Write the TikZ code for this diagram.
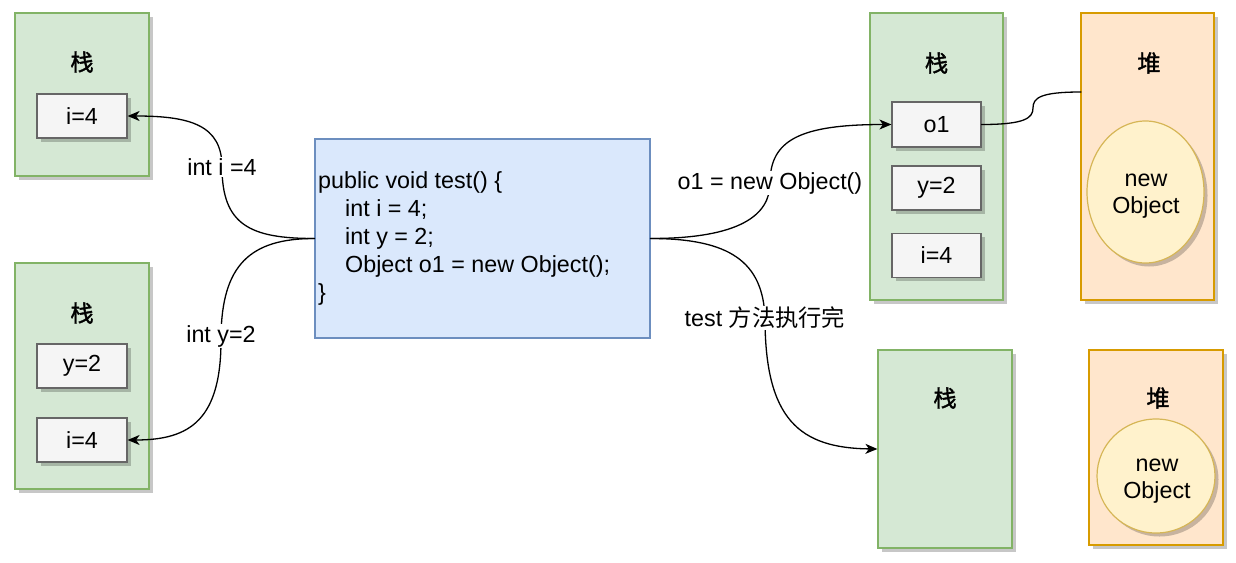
\documentclass[tikz,border=0pt]{standalone}
\usepackage{fontspec}
\setmainfont{Liberation Sans}
\newfontfamily\cjk{Noto Sans CJK SC}[AutoFakeBold=1.5]
\usetikzlibrary{arrows.meta,shadows,shapes.geometric}
\definecolor{stackfill}{HTML}{D5E8D4}
\definecolor{stackline}{HTML}{82B366}
\definecolor{cellfill}{HTML}{F5F5F5}
\definecolor{cellline}{HTML}{666666}
\definecolor{codefill}{HTML}{DAE8FC}
\definecolor{codeline}{HTML}{6C8EBF}
\definecolor{heapfill}{HTML}{FFE6CC}
\definecolor{heapline}{HTML}{D79B00}
\definecolor{objfill}{HTML}{FFF2CC}
\definecolor{objline}{HTML}{D6B656}
\begin{document}
\begin{tikzpicture}[x=1pt,y=-1pt,
  every node/.style={font=\fontsize{23.3}{28}\selectfont, inner sep=0pt},
  shd/.style={drop shadow={shadow xshift=3.5pt,shadow yshift=-3.5pt,fill=black,opacity=0.22}},
  stackbox/.style={rectangle, draw=stackline, fill=stackfill, line width=1.2pt, shd},
  heapbox/.style={rectangle, draw=heapline, fill=heapfill, line width=1.2pt, shd},
  cell/.style={rectangle, draw=cellline, fill=cellfill, line width=1.2pt, shd, minimum height=44pt},
  obj/.style={ellipse, draw=objline, fill=objfill, line width=1.2pt, shd},
  objtext/.style={align=center, font=\fontsize{23.3}{27.5}\selectfont},
  ttl/.style={font=\fontsize{23.3}{28}\selectfont\cjk\bfseries},
  conn/.style={line width=1.3pt, line cap=round},
  arr/.style={conn, -{Stealth[length=12pt,width=10pt,inset=3.5pt]}},
  elabel/.style={fill=white, inner sep=1.5pt}
]
\useasboundingbox (0,0) rectangle (1236,562);

% left top stack
\node[stackbox, minimum width=134pt, minimum height=163pt] (s1) at (82,94.5) {};
\node[ttl] (s1t) at (82,62) {栈};
\node[cell, minimum width=90pt] (s1i) at (82,116) {i=4};

% left bottom stack
\node[stackbox, minimum width=134pt, minimum height=226pt] (s2) at (82,376) {};
\node[ttl] (s2t) at (82,313) {栈};
\node[cell, minimum width=90pt] (s2y) at (82,366) {y=2};
\node[cell, minimum width=90pt] (s2i) at (82,440) {i=4};

% code box
\node[rectangle, draw=codeline, fill=codefill, line width=1.2pt, minimum width=335pt, minimum height=199pt] (code) at (482.5,238.5) {};
\node[anchor=west, align=left] (codetext) at (318,238.5) {public void test() \{\\
\hspace*{27pt}int i = 4;\\
\hspace*{27pt}int y = 2;\\
\hspace*{27pt}Object o1 = new Object();\\
\}};

% right top stack and heap
\node[stackbox, minimum width=133pt, minimum height=287pt] (s3) at (936.5,156.5) {};
\node[ttl] (s3t) at (936.5,63) {栈};
\node[cell, minimum width=89pt, minimum height=45pt] (s3o) at (936.5,124.5) {o1};
\node[cell, minimum width=89pt] (s3y) at (936.5,188) {y=2};
\node[cell, minimum width=89pt] (s3i) at (936.5,255.5) {i=4};

\node[heapbox, minimum width=133pt, minimum height=287pt] (h1) at (1147.5,156.5) {};
\node[ttl] (h1t) at (1149,63) {堆};
\node[obj, minimum width=117pt, minimum height=142pt] (h1o) at (1145.5,192) {};
\node[objtext] (h1ot) at (1146,196) {new\\Object};

% right bottom stack and heap
\node[stackbox, minimum width=134pt, minimum height=198pt] (s4) at (945,449) {};
\node[ttl] (s4t) at (945,398) {栈};
\node[heapbox, minimum width=134pt, minimum height=195pt] (h2) at (1156,447.5) {};
\node[ttl] (h2t) at (1158,398) {堆};
\node[obj, minimum width=118pt, minimum height=114pt] (h2o) at (1156,476) {};
\node[objtext] (h2ot) at (1157,481) {new\\Object};

% connectors
\coordinate (la) at (222,167);
\coordinate (lb) at (221,336);
\coordinate (lc) at (770,183);
\coordinate (ld) at (765,318);
\coordinate (hin) at (1081,92);

\draw[arr] (code.west) .. controls (250,238.5) and (222,225) .. (la)
  .. controls (222,125) and (190,116) .. (s1i.east);
\draw[arr] (code.west) .. controls (250,238.5) and (222,265) .. (lb)
  .. controls (222,420) and (190,440) .. (s2i.east);
\draw[arr] (code.east) .. controls (740,238.5) and (770,215) .. (lc)
  .. controls (770,140) and (800,124.5) .. (s3o.west);
\draw[arr] (code.east) .. controls (730,238.5) and (763,262) .. (ld)
  .. controls (765,420) and (800,448) .. (s4.west);
\draw[conn] (s3o.east) .. controls (1025,124.5) and (1033,118) .. (1033,108)
  .. controls (1033,98) and (1040,92) .. (hin);

\node[elabel] (lta) at (la) {int i =4};
\node[elabel] (ltb) at (lb) {int y=2};
\node[elabel] (ltc) at (lc) {o1 = new Object()};
\node[elabel] (ltd) at (ld) {test {\cjk 方法执行完}};
\end{tikzpicture}
\end{document}
